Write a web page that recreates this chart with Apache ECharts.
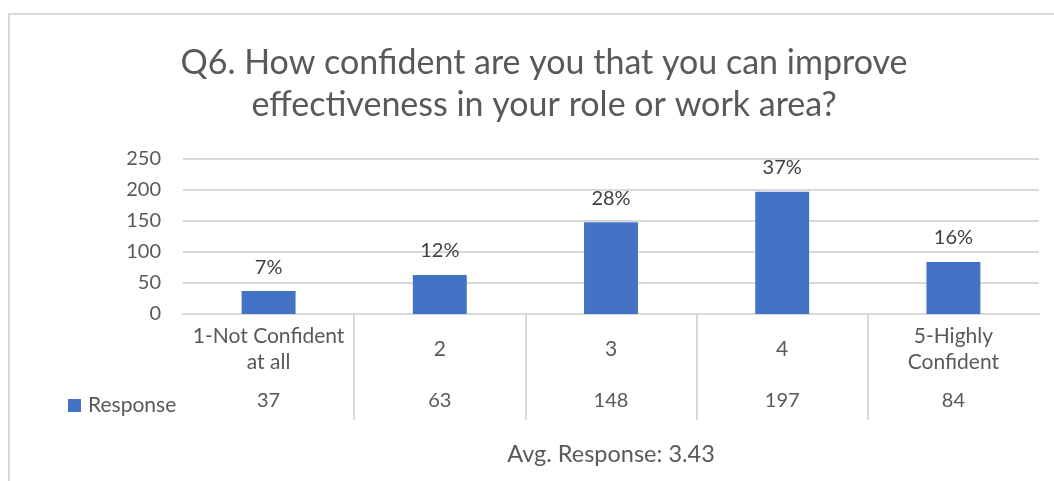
<!DOCTYPE html>
<html>
<head>
<meta charset="utf-8">
<script src="https://cdn.jsdelivr.net/npm/echarts@6/dist/echarts.min.js"></script>
<style>
html,body{margin:0;padding:0;background:#fff;}
#chart{width:1054px;height:481px;}
</style>
</head>
<body>
<div id="chart"></div>
<script>
const categories = ['1-Not Confident\nat all', '2', '3', '4', '5-Highly\nConfident'];
const responses = [37, 63, 148, 197, 84];
const percentLabels = ['7%', '12%', '28%', '37%', '16%'];
const seriesName = 'Response';
const avgLabel = 'Avg. Response: 3.43';
const titleText = 'Q6. How confident are you that you can improve\neffectiveness in your role or work area?';

const FONT = 'Lato';
const GREY = '#595959';
const GRID = '#d9d9d9';

const chart = echarts.init(document.getElementById('chart'), null, {renderer: 'canvas'});
chart.setOption({
  animation: false,
  backgroundColor: '#fff',
  textStyle: {fontFamily: FONT},
  title: {
    text: titleText,
    left: 539,
    textAlign: 'center',
    top: 37,
    textStyle: {fontFamily: FONT, fontSize: 34, fontWeight: 'normal', color: GREY, lineHeight: 42}
  },
  graphic: [{
    type: 'rect', silent: true,
    shape: {x: 9, y: 14, width: 1100, height: 520},
    style: {fill: 'none', stroke: GRID, lineWidth: 2}
  }],
  legend: {
    left: 63, top: 390,
    itemWidth: 13, itemHeight: 13,
    icon: 'rect',
    data: [seriesName],
    textStyle: {fontFamily: FONT, fontSize: 21, color: GREY, padding: [0, 0, 0, 2]}
  },
  grid: {left: 183, right: 15, top: 159, bottom: 167, containLabel: false},
  xAxis: [{
    type: 'category',
    data: categories,
    axisLine: {show: true, lineStyle: {color: GRID, width: 2}},
    axisTick: {show: false},
    axisLabel: {fontFamily: FONT, fontSize: 21, color: GREY, lineHeight: 26, margin: 35, verticalAlign: 'middle', interval: 0},
    name: avgLabel,
    nameLocation: 'middle',
    nameGap: 128,
    nameTextStyle: {fontFamily: FONT, fontSize: 23.5, color: GREY}
  }, {
    type: 'category',
    position: 'bottom',
    data: responses.map(String),
    axisLine: {show: false},
    axisTick: {show: false},
    axisLabel: {fontFamily: FONT, fontSize: 20, color: GREY, margin: 87, verticalAlign: 'middle', interval: 0}
  }, {
    type: 'value',
    position: 'bottom',
    min: 0, max: categories.length, interval: 1,
    axisLine: {show: false},
    axisLabel: {show: false},
    splitLine: {show: false},
    axisTick: {show: true, length: 106, customValues: [1, 2, 3, 4], lineStyle: {color: GRID, width: 2}}
  }],
  yAxis: {
    type: 'value',
    min: 0, max: 250, interval: 50,
    axisLine: {show: false},
    axisTick: {show: false},
    axisLabel: {fontFamily: FONT, fontSize: 20, color: GREY, margin: 22},
    splitLine: {lineStyle: {color: GRID, width: 2}}
  },
  series: [{
    name: seriesName,
    type: 'bar',
    xAxisIndex: 0,
    data: responses,
    barWidth: '31.5%',
    itemStyle: {color: '#4472C4'},
    label: {
      show: true, position: 'top', distance: 14,
      formatter: p => percentLabels[p.dataIndex],
      fontFamily: FONT, fontSize: 20, color: '#404040'
    }
  }]
});
</script>
</body>
</html>
